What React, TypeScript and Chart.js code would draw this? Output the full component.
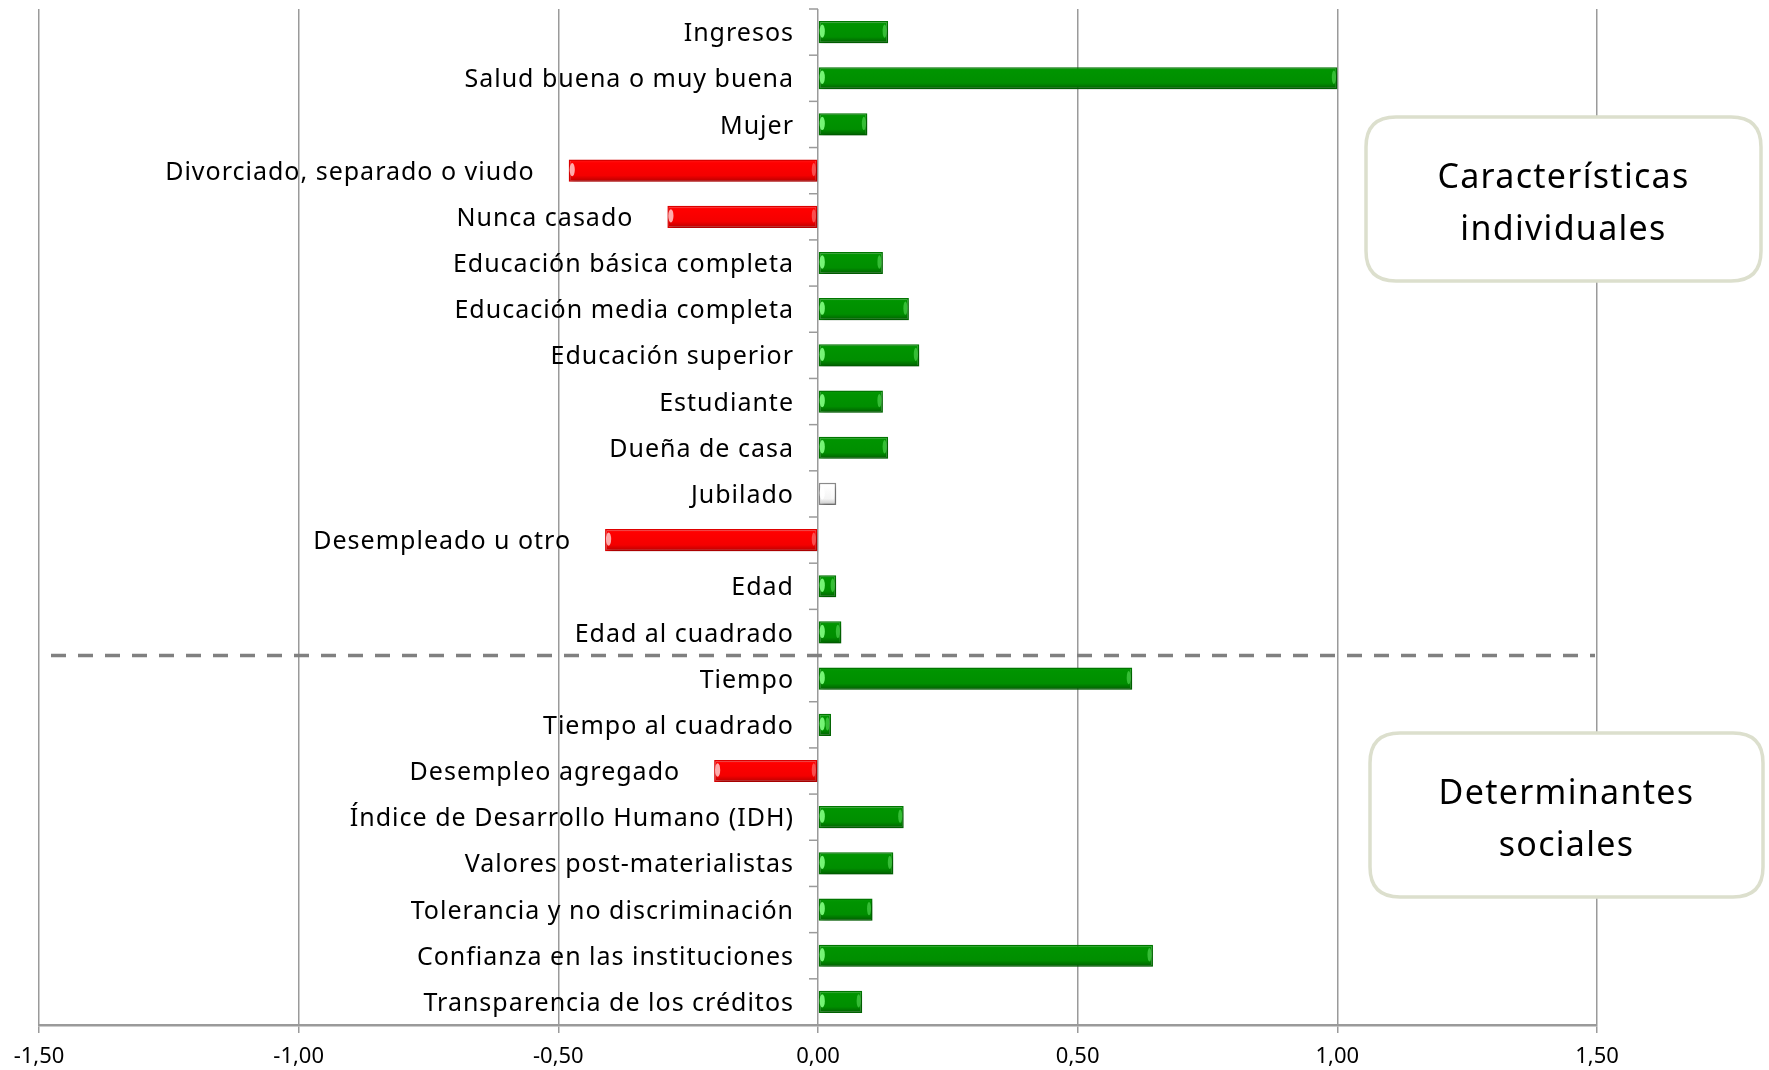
import React, { useEffect, useRef } from "react";
import { Chart, registerables } from "chart.js";

Chart.register(...registerables);

const categories: string[] = [
  "Ingresos",
  "Salud buena o muy buena",
  "Mujer",
  "Divorciado, separado o viudo",
  "Nunca casado",
  "Educación básica completa",
  "Educación media completa",
  "Educación superior",
  "Estudiante",
  "Dueña de casa",
  "Jubilado",
  "Desempleado u otro",
  "Edad",
  "Edad al cuadrado",
  "Tiempo",
  "Tiempo al cuadrado",
  "Desempleo agregado",
  "Índice de Desarrollo Humano (IDH)",
  "Valores post-materialistas",
  "Tolerancia y no discriminación",
  "Confianza en las instituciones",
  "Transparencia de los créditos",
];

const coefficients: number[] = [
  0.135, 1.0, 0.095, -0.48, -0.29, 0.125, 0.175, 0.195, 0.125, 0.135, 0.035,
  -0.41, 0.035, 0.045, 0.605, 0.025, -0.2, 0.165, 0.145, 0.105, 0.645, 0.085,
];

// significance: "pos" green, "neg" red, "ns" white (not significant)
const significance: string[] = [
  "pos", "pos", "pos", "neg", "neg", "pos", "pos", "pos", "pos", "pos", "ns",
  "neg", "pos", "pos", "pos", "pos", "neg", "pos", "pos", "pos", "pos", "pos",
];

const xTicks: number[] = [-1.5, -1.0, -0.5, 0, 0.5, 1.0, 1.5];

// the dashed separator sits after this many categories
const groupSplit = 14;
const groupTitles: string[][] = [
  ["Características", "individuales"],
  ["Determinantes", "sociales"],
];

const FONT = "'Noto Sans', 'DejaVu Sans', sans-serif";
const BAR_PCT = 0.48;

const palette: Record<string, { stops: string[]; border: string; glow: string }> = {
  pos: { stops: ["#0a9a0a", "#009400", "#008e00", "#005c00"], border: "#007800", glow: "rgba(130,255,130,0.9)" },
  neg: { stops: ["#ff1a1a", "#ff0000", "#f40000", "#b40000"], border: "#e00000", glow: "rgba(255,190,190,0.9)" },
  ns: { stops: ["#ffffff", "#ffffff", "#f4f4f4", "#c4c4c4"], border: "#8c8c8c", glow: "rgba(255,255,255,0.9)" },
};

const boxFrames = [
  { x: 1366, y: 117, w: 395, h: 164 },
  { x: 1370, y: 733, w: 393, h: 164 },
];

function roundRect(ctx: CanvasRenderingContext2D, x: number, y: number, w: number, h: number, r: number) {
  ctx.beginPath();
  ctx.moveTo(x + r, y);
  ctx.lineTo(x + w - r, y);
  ctx.quadraticCurveTo(x + w, y, x + w, y + r);
  ctx.lineTo(x + w, y + h - r);
  ctx.quadraticCurveTo(x + w, y + h, x + w - r, y + h);
  ctx.lineTo(x + r, y + h);
  ctx.quadraticCurveTo(x, y + h, x, y + h - r);
  ctx.lineTo(x, y + r);
  ctx.quadraticCurveTo(x, y, x + r, y);
  ctx.closePath();
}

const decorPlugin = {
  id: "decor",
  beforeDraw(chart: any) {
    const ctx = chart.ctx;
    ctx.save();
    ctx.fillStyle = "#ffffff";
    ctx.fillRect(0, 0, chart.width, chart.height);
    ctx.restore();
  },
  beforeDatasetsDraw(chart: any) {
    const ctx = chart.ctx;
    ctx.save();
    ctx.shadowColor = "rgba(0,0,0,0.3)";
    ctx.shadowBlur = 5;
    ctx.shadowOffsetX = 2;
    ctx.shadowOffsetY = 3;
  },
  afterDatasetsDraw(chart: any) {
    const ctx = chart.ctx;
    ctx.restore();
    const x = chart.scales.x;
    const y = chart.scales.y;
    const area = chart.chartArea;
    const x0 = x.getPixelForValue(0);
    const band = (area.bottom - area.top) / categories.length;

    // bevel highlights at bar ends
    const meta = chart.getDatasetMeta(0);
    ctx.save();
    meta.data.forEach((bar: any, i: number) => {
      const pal = palette[significance[i] ?? "pos"];
      const left = Math.min(bar.x, bar.base);
      const right = Math.max(bar.x, bar.base);
      const h = bar.height;
      if (right - left < 8) return;
      ctx.fillStyle = pal.glow;
      ctx.beginPath();
      ctx.ellipse(left + 3.5, bar.y - 1, 2.6, h * 0.3, 0, 0, Math.PI * 2);
      ctx.fill();
      ctx.globalAlpha = 0.45;
      ctx.beginPath();
      ctx.ellipse(right - 3.5, bar.y - 1, 2, h * 0.3, 0, 0, Math.PI * 2);
      ctx.fill();
      ctx.globalAlpha = 1;
    });
    ctx.restore();

    // zero axis tick marks at category boundaries
    ctx.save();
    ctx.strokeStyle = "#9a9a9a";
    ctx.lineWidth = 1.5;
    for (let i = 0; i <= categories.length; i++) {
      const yy = area.top + i * band;
      ctx.beginPath();
      ctx.moveTo(x0 - 9, yy);
      ctx.lineTo(x0, yy);
      ctx.stroke();
    }
    ctx.restore();

    // category labels next to the bars
    ctx.save();
    ctx.font = `25px ${FONT}`;
    (ctx as any).letterSpacing = "1px";
    ctx.fillStyle = "#000000";
    ctx.textAlign = "right";
    ctx.textBaseline = "middle";
    categories.forEach((label, i) => {
      const v = coefficients[i];
      const cy = y.getPixelForValue(i);
      const edge = v < 0 ? x.getPixelForValue(v) - 34 : x0 - 24;
      ctx.fillText(label, edge, cy + 2);
    });
    ctx.restore();

    // dashed group separator
    const sepY = area.top + groupSplit * band;
    ctx.save();
    ctx.strokeStyle = "#808080";
    ctx.lineWidth = 3.5;
    ctx.setLineDash([15, 12]);
    ctx.beginPath();
    ctx.moveTo(area.left + 12, sepY);
    ctx.lineTo(area.right - 2, sepY);
    ctx.stroke();
    ctx.restore();

    // group boxes
    ctx.save();
    groupTitles.forEach((lines, gi) => {
      const f = boxFrames[gi];
      roundRect(ctx, f.x, f.y, f.w, f.h, 30);
      ctx.fillStyle = "#ffffff";
      ctx.fill();
      ctx.lineWidth = 3.5;
      ctx.strokeStyle = "#dcdfcd";
      ctx.stroke();
      ctx.fillStyle = "#000000";
      ctx.font = `34px ${FONT}`;
      (ctx as any).letterSpacing = "1.3px";
      ctx.textAlign = "center";
      ctx.textBaseline = "middle";
      lines.forEach((ln, li) => {
        ctx.fillText(ln, f.x + f.w / 2, f.y + f.h / 2 - 21 + li * 52);
      });
    });
    ctx.restore();
  },
};

export default function App() {
  const canvasRef = useRef<HTMLCanvasElement | null>(null);

  useEffect(() => {
    const canvas = canvasRef.current;
    if (!canvas) return;

    const fillFor = (c: any) => {
      const kind = significance[c.dataIndex] ?? "pos";
      const pal = palette[kind];
      const chart = c.chart;
      const ys = chart.scales?.y;
      const area = chart.chartArea;
      if (!ys || !area || c.dataIndex == null) return pal.stops[2];
      const band = (area.bottom - area.top) / categories.length;
      const h = band * BAR_PCT;
      const cy = ys.getPixelForValue(c.dataIndex);
      const g = chart.ctx.createLinearGradient(0, cy - h / 2, 0, cy + h / 2);
      g.addColorStop(0, pal.stops[0]);
      g.addColorStop(0.15, pal.stops[1]);
      g.addColorStop(0.72, pal.stops[2]);
      g.addColorStop(1, pal.stops[3]);
      return g;
    };

    const chart = new Chart(canvas, {
      type: "bar",
      data: {
        labels: categories,
        datasets: [
          {
            data: coefficients,
            backgroundColor: fillFor as any,
            borderColor: (c: any) => palette[significance[c.dataIndex] ?? "pos"].border,
            borderWidth: 1.5,
            borderSkipped: false,
            barPercentage: BAR_PCT,
            categoryPercentage: 1,
          },
        ],
      },
      options: {
        indexAxis: "y",
        responsive: false,
        animation: false,
        devicePixelRatio: 1,
        layout: { padding: { left: 39, right: 172, top: 9, bottom: 0 } },
        plugins: {
          legend: { display: false },
          tooltip: { enabled: false },
        },
        scales: {
          y: { display: false },
          x: {
            min: -1.5,
            max: 1.5,
            afterBuildTicks: (scale: any) => {
              scale.ticks = xTicks.map((v) => ({ value: v }));
            },
            afterFit: (scale: any) => {
              scale.height = 45;
            },
            grid: {
              color: "#9a9a9a",
              lineWidth: 1.5,
              tickLength: 8,
              drawTicks: true,
            },
            border: { display: true, color: "#9a9a9a", width: 2.5 },
            ticks: {
              color: "#000000",
              font: { family: FONT, size: 22 },
              padding: 11,
              callback: (v: any) => Number(v).toFixed(2).replace(".", ","),
            },
          },
        },
      },
      plugins: [decorPlugin],
    });

    return () => chart.destroy();
  }, []);

  return (
    <div style={{ position: "fixed", left: 0, top: 0, width: 1769, height: 1070, background: "#fff" }}>
      <canvas ref={canvasRef} width={1769} height={1070} style={{ width: 1769, height: 1070, display: "block" }} />
    </div>
  );
}
